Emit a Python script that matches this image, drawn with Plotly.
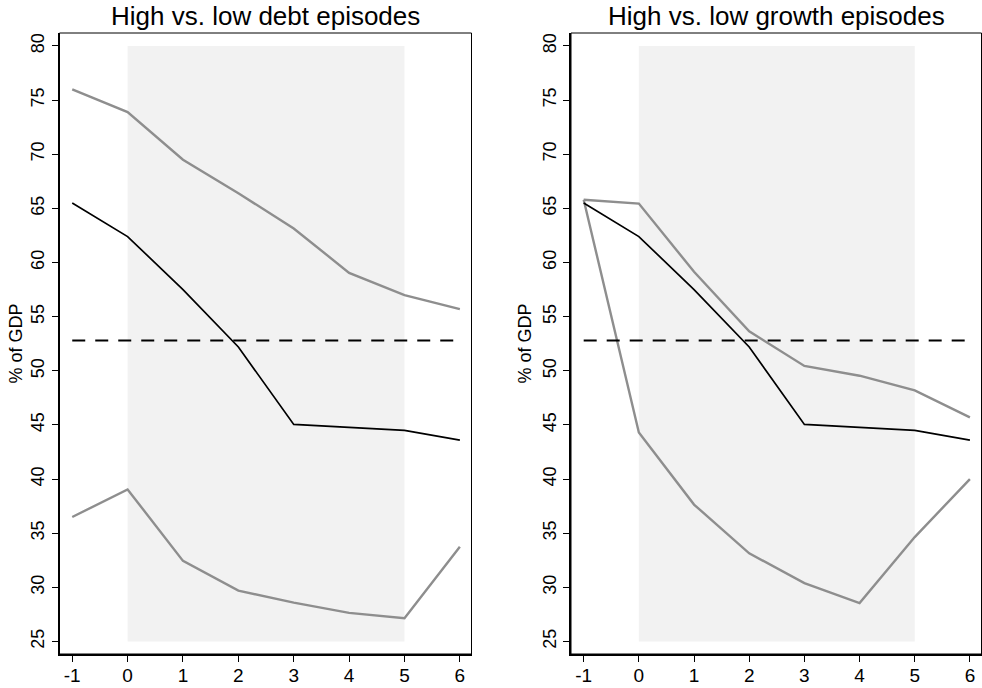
import plotly.graph_objects as go

years = [-1, 0, 1, 2, 3, 4, 5, 6]
tick_vals_x = [-1, 0, 1, 2, 3, 4, 5, 6]
tick_text_x = ["-1", "0", "1", "2", "3", "4", "5", "6"]
tick_vals_y = [25, 30, 35, 40, 45, 50, 55, 60, 65, 70, 75, 80]

avg_debt = [65.5, 62.4, 57.5, 52.2, 45.05, 44.8, 44.5, 43.6]
threshold = 52.8

high_debt = [76.0, 73.9, 69.5, 66.4, 63.15, 59.05, 57.0, 55.7]
low_debt = [36.5, 39.05, 32.45, 29.7, 28.6, 27.65, 27.15, 33.75]

high_growth = [65.8, 65.45, 59.15, 53.65, 50.45, 49.55, 48.2, 45.7]
low_growth = [65.8, 44.3, 37.65, 33.15, 30.4, 28.55, 34.65, 40.0]

shade_x = [0, 5]
shade_y = [25, 80]

titles = ["High vs. low debt episodes", "High vs. low growth episodes"]
y_title = "% of GDP"

GRAY = "#8e8e8e"
FONT = "Liberation Sans, Arial, sans-serif"

fig = go.Figure()

panels = [("x", "y", high_debt, low_debt), ("x2", "y2", high_growth, low_growth)]
for xa, ya, hi, lo in panels:
    fig.add_shape(type="rect", xref=xa, yref=ya,
                  x0=shade_x[0], x1=shade_x[1], y0=shade_y[0], y1=shade_y[1],
                  fillcolor="#f2f2f2", line=dict(width=0), layer="below")
    fig.add_trace(go.Scatter(x=years, y=hi, mode="lines", xaxis=xa, yaxis=ya,
                             line=dict(color=GRAY, width=2.4), showlegend=False))
    fig.add_trace(go.Scatter(x=years, y=lo, mode="lines", xaxis=xa, yaxis=ya,
                             line=dict(color=GRAY, width=2.4), showlegend=False))
    fig.add_trace(go.Scatter(x=years, y=avg_debt, mode="lines", xaxis=xa, yaxis=ya,
                             line=dict(color="black", width=1.7), showlegend=False))
    fig.add_trace(go.Scatter(x=[years[0], years[-1]], y=[threshold, threshold],
                             mode="lines", xaxis=xa, yaxis=ya,
                             line=dict(color="black", width=2, dash="13px,10px"),
                             showlegend=False))
    fig.add_shape(type="rect", xref=xa + " domain", yref=ya + " domain",
                  x0=0, x1=1, y0=0, y1=1, line=dict(color="black", width=1),
                  fillcolor="rgba(0,0,0,0)", layer="above")

W, H = 982, 688
x1dom = [59.5 / W, 471.5 / W]
x2dom = [571 / W, 981.5 / W]
ydom = [(H - 654) / H, (H - 33) / H]

axis_common = dict(showgrid=False, zeroline=False, showline=True, linecolor="black",
                   linewidth=2, ticks="outside", ticklen=6, tickwidth=1.2,
                   tickcolor="black")

xr = [-1.23, 6.21]
yr = [23.85, 81.2]
xfont = dict(family=FONT, size=19, color="black")
yfont = dict(family=FONT, size=18, color="black")

fig.update_layout(
    width=W, height=H,
    margin=dict(l=0, r=0, t=0, b=0),
    paper_bgcolor="white", plot_bgcolor="white",
    font=dict(family=FONT, color="black"),
    xaxis=dict(domain=x1dom, range=xr, tickvals=tick_vals_x, ticktext=tick_text_x,
               anchor="y", tickfont=xfont, ticklabelstandoff=-3, **axis_common),
    yaxis=dict(domain=ydom, range=yr, tickvals=tick_vals_y, tickangle=-90,
               anchor="x", tickfont=yfont, **axis_common),
    xaxis2=dict(domain=x2dom, range=xr, tickvals=tick_vals_x, ticktext=tick_text_x,
                anchor="y2", tickfont=xfont, ticklabelstandoff=-3, **axis_common),
    yaxis2=dict(domain=ydom, range=yr, tickvals=tick_vals_y, tickangle=-90,
                anchor="x2", tickfont=yfont, **axis_common),
)

for i, xd in enumerate([x1dom, x2dom]):
    fig.add_annotation(text=titles[i], xref="paper", yref="paper",
                       x=(xd[0] + xd[1]) / 2, y=1 - 16 / H, xanchor="center", yanchor="middle",
                       showarrow=False, font=dict(family=FONT, size=26, color="black"))
for xpix in [16, 525]:
    fig.add_annotation(text=y_title, xref="paper", yref="paper",
                       x=xpix / W, y=(ydom[0] + ydom[1]) / 2, xanchor="center", yanchor="middle",
                       textangle=-90, showarrow=False,
                       font=dict(family=FONT, size=18, color="black"))

fig.write_html("out.html", config={"displayModeBar": False},
               post_script="document.body.style.margin='0px';")
